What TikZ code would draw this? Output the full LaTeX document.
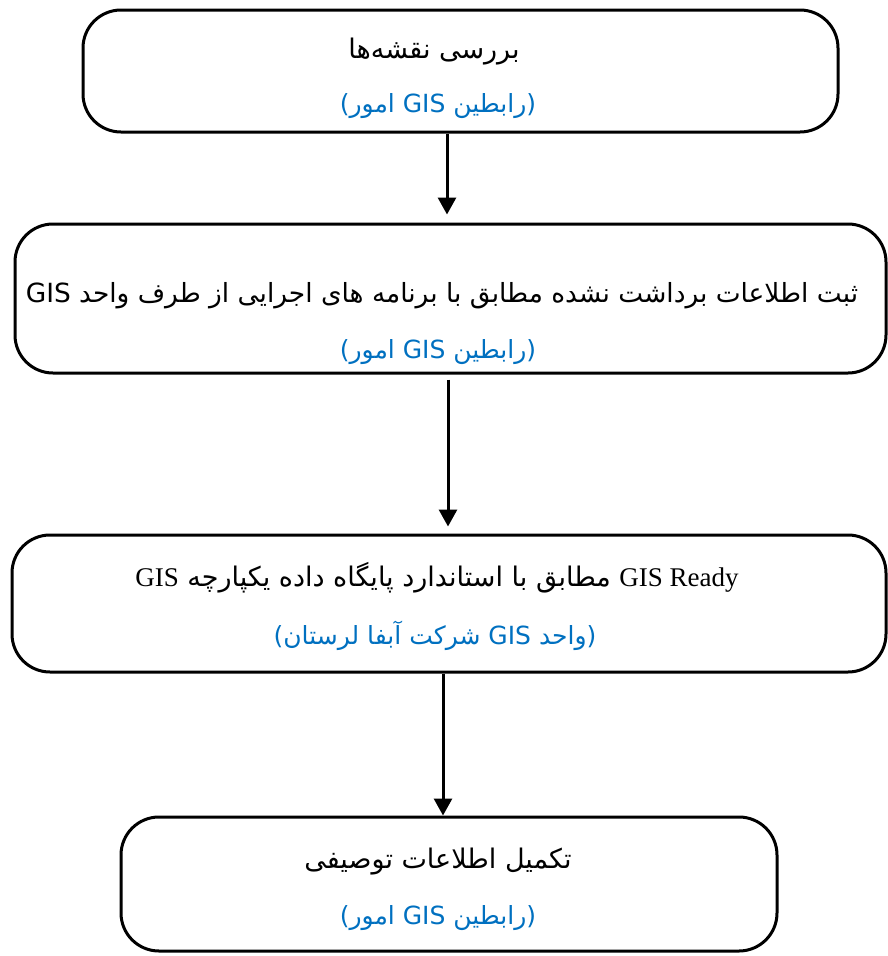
\documentclass[tikz,border=0pt]{standalone}
\usepackage{fontspec}
\usepackage{xcolor}
\usetikzlibrary{arrows.meta,calc}
\TeXXeTstate=1
\newfontfamily\arabicfont[Script=Arabic]{DejaVu Sans}
\newfontfamily\latinserif{Liberation Serif}
\definecolor{unitblue}{HTML}{0070C0}
\tikzset{
  stepbox/.style={draw=black, line width=3pt, rounded corners=38pt, inner sep=0pt},
  flow/.style={draw=black, line width=3pt, -{Triangle[width=18pt,length=17pt]}},
  title/.style={font=\arabicfont\fontsize{27}{31}\selectfont, text=black, inner sep=0pt},
  unit/.style={font=\arabicfont\fontsize{25}{29}\selectfont, text=unitblue, inner sep=0pt},
}

\begin{document}
\begin{tikzpicture}[x=1pt, y=-1pt]
  \useasboundingbox (0,0) rectangle (888,956);

  % steps
  \node[stepbox, minimum width=755pt, minimum height=122pt] (check) at (460.5,71) {};
  \node[stepbox, minimum width=871pt, minimum height=149pt] (record) at (450.5,298.5) {};
  \node[stepbox, minimum width=874pt, minimum height=137pt] (ready) at (449,603.5) {};
  \node[stepbox, minimum width=656pt, minimum height=134pt] (complete) at (449,884) {};

  % texts
  \node[title] (check-t) at (434,52) {\beginR بررسی نقشه‌ها\endR};
  \node[unit] (check-u) at (438,106) {\beginR (رابطین \beginL GIS\endL{} امور)\endR};
  \node[title, font=\arabicfont\fontsize{26.4}{30}\selectfont] (record-t) at (442,296) {\beginR ثبت اطلاعات برداشت نشده مطابق با برنامه های اجرایی از طرف واحد \beginL GIS\endL\endR};
  \node[unit] (record-u) at (438,352) {\beginR (رابطین \beginL GIS\endL{} امور)\endR};
  \node[title] (ready-t) at (437,578) {\beginR {\latinserif\beginL GIS Ready\endL} مطابق با استاندارد پایگاه داده یکپارچه {\latinserif GIS}\endR};
  \node[unit] (ready-u) at (435,636) {\beginR (واحد \beginL GIS\endL{} شرکت آبفا لرستان)\endR};
  \node[title] (complete-t) at (438,862) {\beginR تکمیل اطلاعات توصیفی\endR};
  \node[unit] (complete-u) at (438,918) {\beginR (رابطین \beginL GIS\endL{} امور)\endR};

  % connectors
  \coordinate (a1) at (447,0);
  \coordinate (a2) at (448,0);
  \coordinate (a3) at (443,0);
  \draw[flow, shorten >=8pt] (check.south -| a1) -- (record.north -| a1);
  \draw[flow, shorten <=5pt, shorten >=7pt] (record.south -| a2) -- (ready.north -| a2);
  \draw[flow] (ready.south -| a3) -- (complete.north -| a3);
\end{tikzpicture}
\end{document}
